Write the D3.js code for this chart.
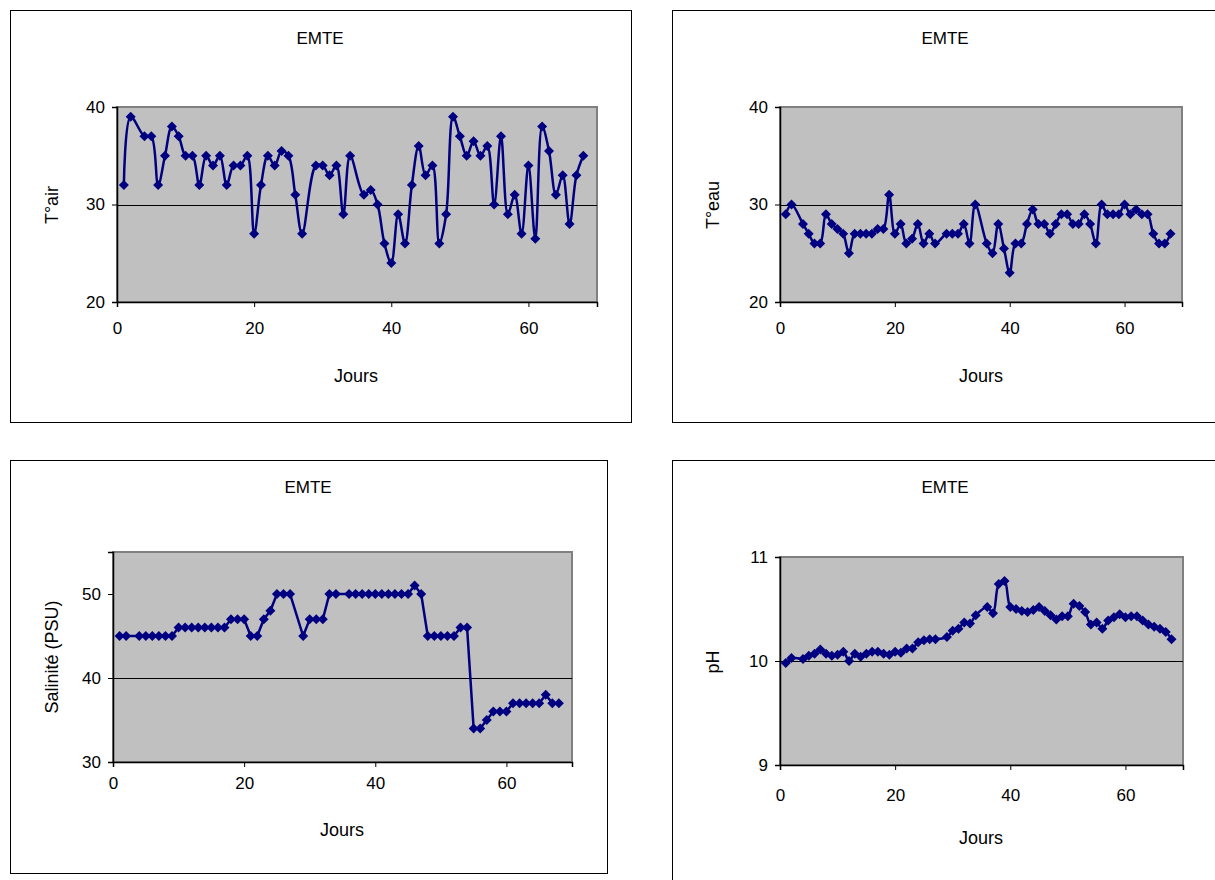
<!DOCTYPE html>
<html lang="fr">
<head>
    <meta charset="utf-8">
    <title>EMTE</title>
    <script src="https://cdn.jsdelivr.net/npm/d3@7"></script>
    <style>
        body { margin: 0; background: #ffffff; }
        svg text { font-family: "Liberation Sans", Arial, sans-serif; fill: #000; }
    </style>
</head>
<body>
<script>
    // jours de mesure (pas de mesure aux jours 3, 28 et 35)
    var days = [1, 2, 4, 5, 6, 7, 8, 9, 10, 11, 12, 13, 14, 15, 16, 17, 18, 19, 20,
                21, 22, 23, 24, 25, 26, 27, 29, 30, 31, 32, 33, 34, 36, 37, 38, 39, 40,
                41, 42, 43, 44, 45, 46, 47, 48, 49, 50, 51, 52, 53, 54, 55, 56, 57, 58,
                59, 60, 61, 62, 63, 64, 65, 66, 67, 68];

    var tAir = [32, 39, 37, 37, 32, 35, 38, 37, 35, 35, 32, 35, 34, 35, 32, 34, 34, 35, 27,
                32, 35, 34, 35.5, 35, 31, 27, 34, 34, 33, 34, 29, 35, 31, 31.5, 30, 26, 24,
                29, 26, 32, 36, 33, 34, 26, 29, 39, 37, 35, 36.5, 35, 36, 30, 37, 29, 31,
                27, 34, 26.5, 38, 35.5, 31, 33, 28, 33, 35];

    var tEau = [29, 30, 28, 27, 26, 26, 29, 28, 27.5, 27, 25, 27, 27, 27, 27, 27.5, 27.5, 31, 27,
                28, 26, 26.5, 28, 26, 27, 26, 27, 27, 27, 28, 26, 30, 26, 25, 28, 25.5, 23,
                26, 26, 28, 29.5, 28, 28, 27, 28, 29, 29, 28, 28, 29, 28, 26, 30, 29, 29,
                29, 30, 29, 29.5, 29, 29, 27, 26, 26, 27];

    var salinite = [45, 45, 45, 45, 45, 45, 45, 45, 46, 46, 46, 46, 46, 46, 46, 46, 47, 47, 47,
                    45, 45, 47, 48, 50, 50, 50, 45, 47, 47, 47, 50, 50, 50, 50, 50, 50, 50,
                    50, 50, 50, 50, 50, 51, 50, 45, 45, 45, 45, 45, 46, 46, 34, 34, 35, 36,
                    36, 36, 37, 37, 37, 37, 37, 38, 37, 37];

    var pH = [9.98, 10.03, 10.02, 10.05, 10.07, 10.11, 10.07, 10.05, 10.06, 10.09, 10.0, 10.07, 10.04, 10.07, 10.09, 10.09, 10.07, 10.06, 10.09,
              10.08, 10.12, 10.12, 10.18, 10.2, 10.21, 10.21, 10.23, 10.29, 10.31, 10.37, 10.36, 10.44, 10.52, 10.46, 10.74, 10.77, 10.52,
              10.5, 10.48, 10.47, 10.49, 10.52, 10.48, 10.44, 10.4, 10.43, 10.43, 10.55, 10.53, 10.47, 10.35, 10.37, 10.31, 10.39, 10.42,
              10.45, 10.42, 10.43, 10.43, 10.39, 10.35, 10.33, 10.31, 10.28, 10.21];

    var xTicks = [0, 20, 40, 60];
    var title = "EMTE";
    var xLabel = "Jours";

    var W = 1215, H = 880;
    var svg = d3.select("body").append("svg")
            .attr("width", W)
            .attr("height", H);

    var diamond = "M0,-5L5,0L0,5L-5,0Z";

    function drawPanel(p) {
        var g = svg.append("g");

        // cadre du graphique
        g.append("rect")
                .attr("x", p.box[0] + 0.5)
                .attr("y", p.box[1] + 0.5)
                .attr("width", p.box[2] - p.box[0])
                .attr("height", p.box[3] - p.box[1])
                .attr("fill", "#fff")
                .attr("stroke", "#000");

        var x = d3.scaleLinear().domain([0, 70]).range([p.plot[0], p.plot[2]]);
        var y = d3.scaleLinear().domain(p.yDomain).range([p.plot[3], p.plot[1]]);

        // zone de tracé
        g.append("rect")
                .attr("x", p.plot[0])
                .attr("y", p.plot[1])
                .attr("width", p.plot[2] - p.plot[0])
                .attr("height", p.plot[3] - p.plot[1])
                .attr("fill", "#c0c0c0")
                .attr("stroke", "#808080")
                .attr("stroke-width", 2);

        // quadrillage
        g.selectAll("line.grid")
                .data(p.yTicks.slice(1, -1))
                .enter()
                .append("line")
                .attr("class", "grid")
                .attr("x1", p.plot[0])
                .attr("x2", p.plot[2])
                .attr("y1", function(d) { return Math.round(y(d)) + 0.5; })
                .attr("y2", function(d) { return Math.round(y(d)) + 0.5; })
                .attr("stroke", "#000")
                .attr("stroke-width", 1);

        var xAxis = g.append("g")
                .attr("transform", "translate(0," + p.plot[3] + ")")
                .call(d3.axisBottom(x).tickValues(xTicks).tickSize(5).tickPadding(p.xPad).tickFormat(d3.format("d")));
        var yAxis = g.append("g")
                .attr("transform", "translate(" + p.plot[0] + ",0)")
                .call(d3.axisLeft(y).tickValues(p.yTicks).tickSize(5).tickPadding(7).tickFormat(d3.format("d")));

        [xAxis, yAxis].forEach(function(a) {
            a.select(".domain").attr("stroke", "#000").attr("stroke-width", 1.5);
            a.selectAll(".tick line").attr("stroke", "#000");
            a.selectAll("text").attr("font-size", "17px")
                    .attr("font-family", "Liberation Sans, Arial, sans-serif");
        });

        var pts = days.map(function(d, i) { return [d, p.values[i]]; });

        var line = d3.line()
                .x(function(d) { return x(d[0]); })
                .y(function(d) { return y(d[1]); })
                .curve(p.smooth ? d3.curveCatmullRom.alpha(0.5) : d3.curveLinear);

        g.append("path")
                .datum(pts)
                .attr("d", line)
                .attr("fill", "none")
                .attr("stroke", "#000080")
                .attr("stroke-width", 2.5);

        g.selectAll("path.pt")
                .data(pts)
                .enter()
                .append("path")
                .attr("class", "pt")
                .attr("d", diamond)
                .attr("transform", function(d) {
                    return "translate(" + x(d[0]) + "," + y(d[1]) + ")";
                })
                .attr("fill", "#000080");

        // titres
        g.append("text")
                .text(title)
                .attr("x", p.titlePos[0])
                .attr("y", p.titlePos[1])
                .attr("text-anchor", "middle")
                .attr("font-size", "17px");
        g.append("text")
                .text(xLabel)
                .attr("x", p.xLabelPos[0])
                .attr("y", p.xLabelPos[1])
                .attr("text-anchor", "middle")
                .attr("font-size", "18px");
        g.append("text")
                .text(p.yLabel)
                .attr("transform", "translate(" + p.yLabelPos[0] + "," + p.yLabelPos[1] + ") rotate(-90)")
                .attr("text-anchor", "middle")
                .attr("font-size", "18px");
    }

    drawPanel({
        box: [10, 10, 631, 422],
        plot: [117, 107, 597, 302],
        yDomain: [20, 40], yTicks: [20, 30, 40], xPad: 15,
        values: tAir, smooth: true, yLabel: "T°air",
        titlePos: [320, 44], xLabelPos: [356, 382], yLabelPos: [58, 205]
    });
    drawPanel({
        box: [672, 10, 1225, 422],
        plot: [780, 107, 1182, 302],
        yDomain: [20, 40], yTicks: [20, 30, 40], xPad: 15,
        values: tEau, smooth: true, yLabel: "T°eau",
        titlePos: [945, 44], xLabelPos: [981, 382], yLabelPos: [719, 205]
    });
    drawPanel({
        box: [10, 460, 607, 873],
        plot: [113, 552, 572, 762],
        yDomain: [30, 55], yTicks: [30, 40, 50], xPad: 10,
        values: salinite, smooth: false, yLabel: "Salinité (PSU)",
        titlePos: [308, 493], xLabelPos: [342, 836], yLabelPos: [58, 657]
    });
    drawPanel({
        box: [672, 460, 1225, 890],
        plot: [780, 557, 1183, 765],
        yDomain: [9, 11], yTicks: [9, 10, 11], xPad: 19,
        values: pH, smooth: true, yLabel: "pH",
        titlePos: [945, 493], xLabelPos: [981, 844], yLabelPos: [719, 662]
    });
</script>
</body>
</html>
